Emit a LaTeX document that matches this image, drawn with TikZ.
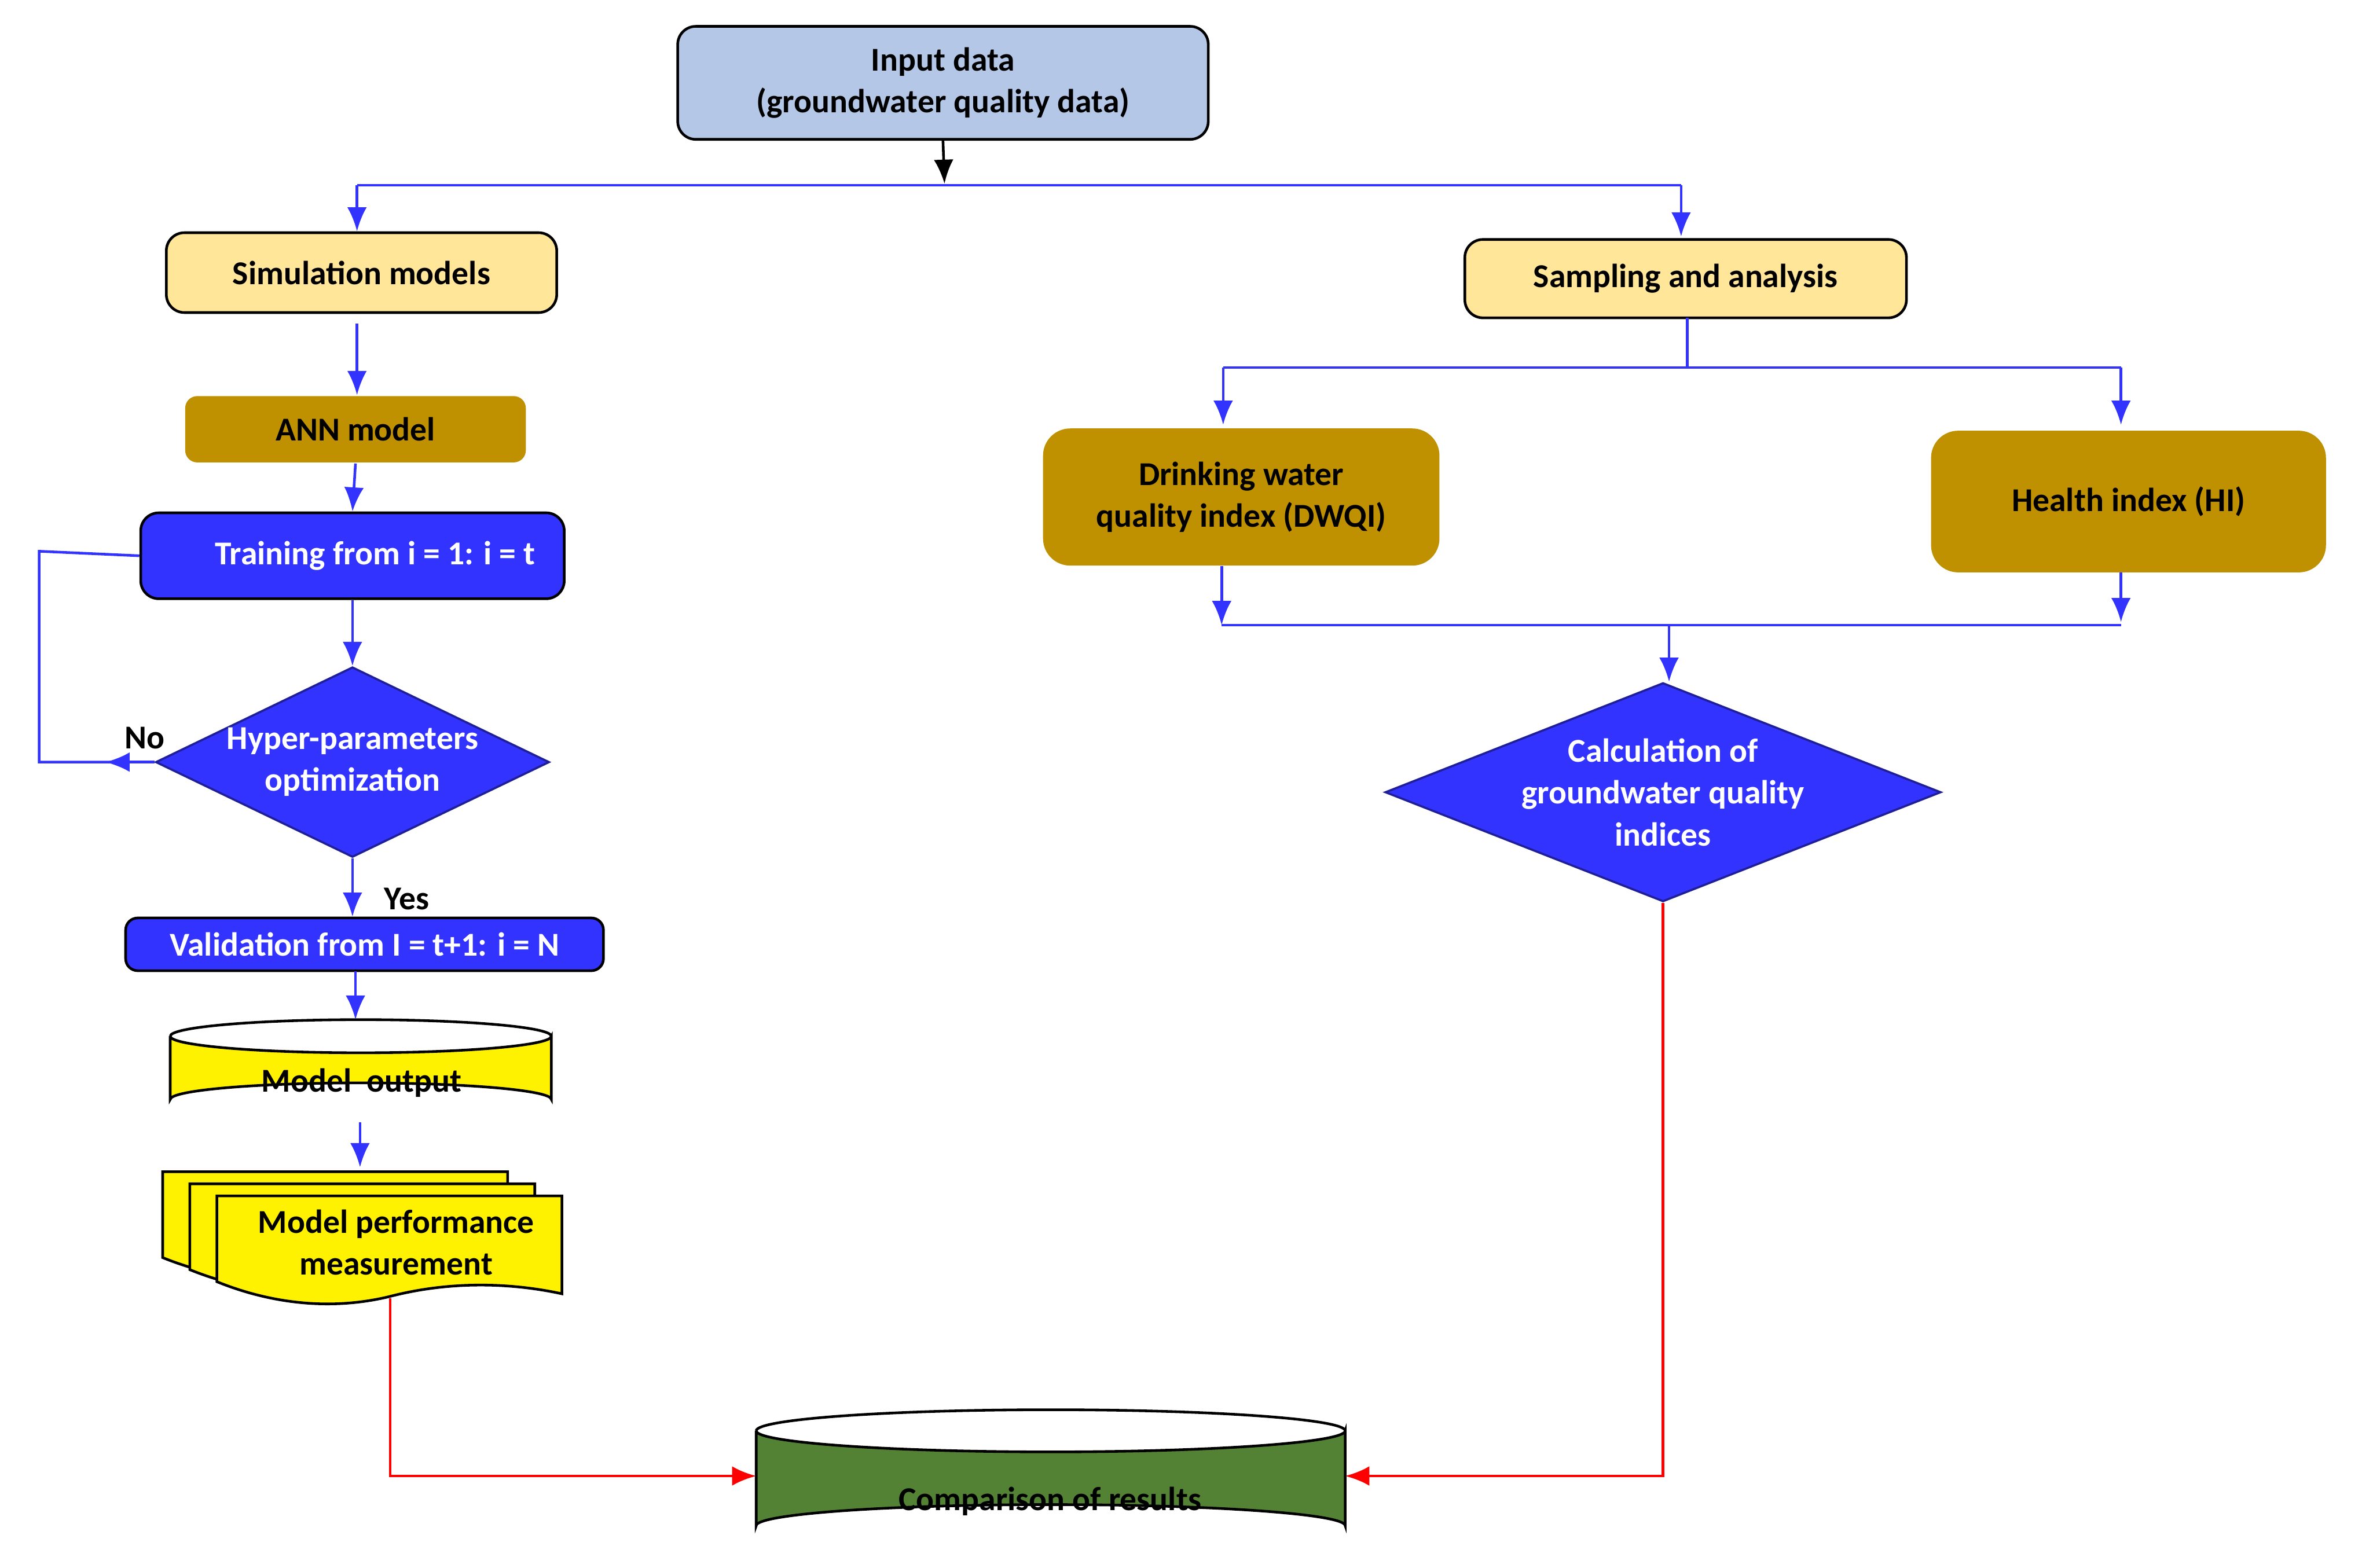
\documentclass[tikz,border=0pt]{standalone}
\usepackage{fontspec}
\setmainfont{Carlito}
\usetikzlibrary{shapes.geometric,arrows.meta}
\definecolor{lblue}{HTML}{B4C7E7}
\definecolor{lyel}{HTML}{FFE699}
\definecolor{gold}{HTML}{BF9000}
\definecolor{bblue}{HTML}{3333FF}
\definecolor{dgreen}{HTML}{548235}
\begin{document}
\begin{tikzpicture}[x=0.01cm,y=-0.01cm,
  font=\fontsize{6.3}{7.9}\selectfont\bfseries,
  box/.style={rectangle,rounded corners=1.2mm,draw=black,line width=0.5pt,inner sep=0pt,align=center},
  gbox/.style={rectangle,rounded corners=1.8mm,fill=gold,inner sep=0pt,align=center},
  bbox/.style={box,fill=bblue,text=white},
  dia/.style={diamond,fill=bblue,draw=bblue!60!black,text=white,inner sep=0pt,align=center},
  ar/.style={draw=bblue,line width=0.5pt,-{Latex[length=1.6mm,width=1.3mm]}},
  ln/.style={draw=bblue,line width=0.5pt},
  rar/.style={draw=red,line width=0.5pt,-{Latex[length=1.6mm,width=1.3mm]}}]
\useasboundingbox (0,0) rectangle (1568,1041);
% nodes
\node[box,fill=lblue,minimum width=3.52cm,minimum height=0.75cm] (in) at (626,55) {Input data\\(groundwater quality data)};
\node[box,fill=lyel,minimum width=2.59cm,minimum height=0.53cm] (sim) at (240,181) {Simulation models};
\node[box,fill=lyel,minimum width=2.93cm,minimum height=0.52cm] (samp) at (1119,185) {Sampling and analysis};
\node[gbox,rounded corners=0.8mm,minimum width=2.26cm,minimum height=0.44cm] (ann) at (236,285) {ANN model};
\node[bbox,minimum width=2.81cm,minimum height=0.57cm] (tr) at (234,369) {\hspace{0.3cm}Training from i = 1: i = t};
\node[dia,minimum width=2.32cm,minimum height=1.12cm,aspect=2.07] (hyp) at (234,506) {Hyper-parameters\\optimization};
\node[bbox,minimum width=3.17cm,minimum height=0.35cm,rounded corners=0.8mm] (val) at (242,627) {Validation from I = t+1: i = N};
\node[gbox,minimum width=2.63cm,minimum height=0.91cm] (dw) at (824,330) {Drinking water\\quality index (DWQI)};
\node[gbox,minimum width=2.62cm,minimum height=0.94cm] (hi) at (1413,333) {Health index (HI)};
\node[dia,minimum width=3.56cm,minimum height=1.40cm,aspect=2.54] (calc) at (1104,526) {Calculation of\\groundwater quality\\indices};
% cylinders
\fill[yellow,draw=black,line width=0.5pt] (113,688) -- (113,730) arc[start angle=180,end angle=360,x radius=126.5,y radius=11] -- (366,688) arc[start angle=0,end angle=180,x radius=126.5,y radius=11];
\draw[line width=0.5pt] (113,688) arc[start angle=180,end angle=360,x radius=126.5,y radius=11];
\node (out) at (240,719) {Model\ \ output};
\fill[dgreen,draw=black,line width=0.5pt] (502,950) -- (502,1013) arc[start angle=180,end angle=360,x radius=195.5,y radius=14] -- (893,950) arc[start angle=0,end angle=180,x radius=195.5,y radius=14];
\draw[line width=0.5pt] (502,950) arc[start angle=180,end angle=360,x radius=195.5,y radius=14];
\node (cmp) at (697,997) {Comparison of results};
\coordinate (cmpw) at (502,980);
\coordinate (cmpe) at (893,980);
% multi document
\foreach \dx/\dy in {0/0,18/8,36/16}{
 \fill[yellow,draw=black,line width=0.5pt] (108+\dx,778+\dy) -- (337+\dx,778+\dy) -- (337+\dx,843+\dy) .. controls (300+\dx,835+\dy) and (260+\dx,835+\dy) .. (222+\dx,845+\dy) .. controls (180+\dx,855+\dy) and (140+\dx,848+\dy) .. (108+\dx,835+\dy) -- cycle;}
\node[align=center] (perf) at (263,825) {Model performance\\measurement};
\coordinate (perfb) at (259,862);
% connectors
\draw[black,line width=0.5pt,-{Latex[length=1.6mm,width=1.3mm]}] (in.south) -- (627,122);
\draw[ln] (237,123) -- (1116,123);
\draw[ar] (237,123) -- (sim.north -| 237,0);
\draw[ar] (1116,123) -- (1116,157);
\draw[ar] (237,215) -- (ann.north -| 237,0);
\draw[ar] (ann.south) -- (tr.south |- tr.north);
\draw[ar] (tr.south) -- (hyp.north);
\draw[ln] (tr.west) -- (26,366) -- (26,506) -- (hyp.west);
\draw[ar] (hyp.west) -- (70,506);
\node at (96,490) {No};
\draw[ar] (hyp.south) -- (val.north -| hyp.south);
\node at (270,597) {Yes};
\draw[ar] (236,645) -- (236,677);
\draw[ar] (239,745) -- (239,775);
\draw[rar] (perfb) -- (259,980) -- (cmpw);
\draw[rar] (calc.south) -- (1104,980) -- (cmpe);
\draw[ln] (1120,211) -- (1120,244);
\draw[ln] (812,244) -- (1408,244);
\draw[ar] (812,244) -- (812,282);
\draw[ar] (1408,244) -- (1408,282);
\draw[ar] (811,376) -- (811,415);
\draw[ar] (1408,380) -- (1408,413);
\draw[ln] (811,415) -- (1408,415);
\draw[ar] (1108,415) -- (calc.north -| 1108,0);
\end{tikzpicture}
\end{document}
